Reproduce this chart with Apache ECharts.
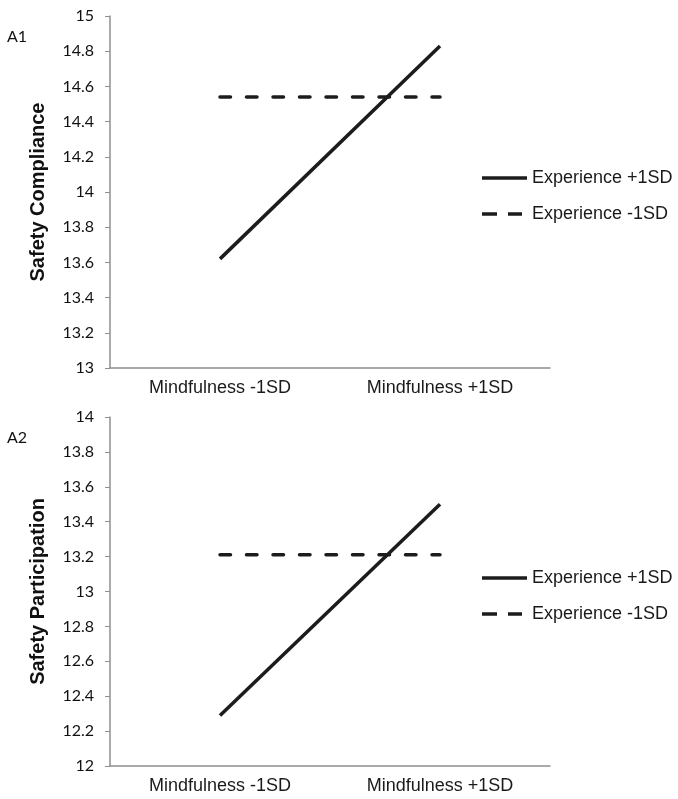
<!DOCTYPE html>
<html>
<head>
<meta charset="utf-8">
<script src="https://cdn.jsdelivr.net/npm/echarts@6/dist/echarts.min.js"></script>
<style>
html,body{margin:0;padding:0;background:#fff;}
#chart{width:678px;height:799px;}
</style>
</head>
<body>
<div id="chart"></div>
<script>
const categories = ['Mindfulness -1SD', 'Mindfulness +1SD'];
const seriesNames = ['Experience +1SD', 'Experience -1SD'];
const panelLabels = ['A1', 'A2'];
const yNames = ['Safety Compliance', 'Safety Participation'];
const complianceAxis = [13, 15, 0.2];
const participationAxis = [12, 14, 0.2];
const complianceHigh = [13.62, 14.83];
const complianceLow = [14.54, 14.54];
const participationHigh = [12.29, 13.50];
const participationLow = [13.21, 13.21];

const axisGray = '#8f8f8f';
const lineBlack = '#1c1c1c';
const tickFont = 'Lato';
const textFont = '"Liberation Sans", Arial, sans-serif';

const solidIcon = 'path://M0 0h45v3.5h-45z';
const dashIcon = 'path://M0 0h15v3.5h-15zM26 0h14v3.5h-14zM44.99 0h0.01v3.5h-0.01z';

const chart = echarts.init(document.getElementById('chart'), null, {renderer: 'canvas'});

function xAxisFor(gridIndex) {
  return {
    type: 'category', gridIndex: gridIndex, data: categories, boundaryGap: true,
    axisLine: {lineStyle: {color: axisGray, width: 1.5}},
    axisTick: {alignWithLabel: true, length: 5, lineStyle: {color: axisGray}},
    axisLabel: {color: '#1a1a1a', fontFamily: textFont, fontSize: 18, margin: 11}
  };
}
function yAxisFor(gridIndex, range, name) {
  return {
    type: 'value', gridIndex: gridIndex, min: range[0], max: range[1], interval: range[2],
    name: name, nameLocation: 'middle', nameRotate: 90, nameGap: 62,
    nameTextStyle: {fontFamily: textFont, fontWeight: 'bold', fontSize: 20, color: '#111'},
    axisLine: {show: true, lineStyle: {color: axisGray, width: 1.5}},
    axisTick: {show: true, length: 5, lineStyle: {color: axisGray}},
    splitLine: {show: false},
    axisLabel: {color: '#111', fontFamily: tickFont, fontSize: 16, margin: 16,
      formatter: function (v) { return String(Math.round(v * 10) / 10); }}
  };
}
function lineSeries(name, data, idx, dashed) {
  return {
    name: name, type: 'line', xAxisIndex: idx, yAxisIndex: idx, data: data,
    symbol: 'none', animation: false,
    lineStyle: {color: lineBlack, width: 3.5, type: dashed ? [10.5, 16] : 'solid', cap: dashed ? 'round' : 'butt'},
    itemStyle: {color: lineBlack}
  };
}
function legendFor(top) {
  return {
    data: [
      {name: seriesNames[0], icon: solidIcon},
      {name: seriesNames[1], icon: dashIcon}
    ],
    orient: 'vertical', left: 482, top: top, padding: 0,
    itemWidth: 45, itemHeight: 3.5, itemGap: 18, selectedMode: false,
    itemStyle: {color: lineBlack},
    textStyle: {fontFamily: textFont, fontSize: 18, color: '#1a1a1a', lineHeight: 18}
  };
}

const option = {
  backgroundColor: '#fff',
  animation: false,
  grid: [
    {left: 110, top: 16, width: 440, height: 352},
    {left: 110, top: 417, width: 440, height: 349}
  ],
  xAxis: [xAxisFor(0), xAxisFor(1)],
  yAxis: [yAxisFor(0, complianceAxis, yNames[0]), yAxisFor(1, participationAxis, yNames[1])],
  legend: [legendFor(169), legendFor(569)],
  series: [
    lineSeries(seriesNames[0], complianceHigh, 0, false),
    lineSeries(seriesNames[1], complianceLow, 0, true),
    lineSeries(seriesNames[0], participationHigh, 1, false),
    lineSeries(seriesNames[1], participationLow, 1, true)
  ],
  graphic: [
    {type: 'text', left: 7, top: 29, style: {text: panelLabels[0], font: '16px Lato', fill: '#111'}},
    {type: 'text', left: 7, top: 430, style: {text: panelLabels[1], font: '16px Lato', fill: '#111'}}
  ]
};
chart.setOption(option);
</script>
</body>
</html>
